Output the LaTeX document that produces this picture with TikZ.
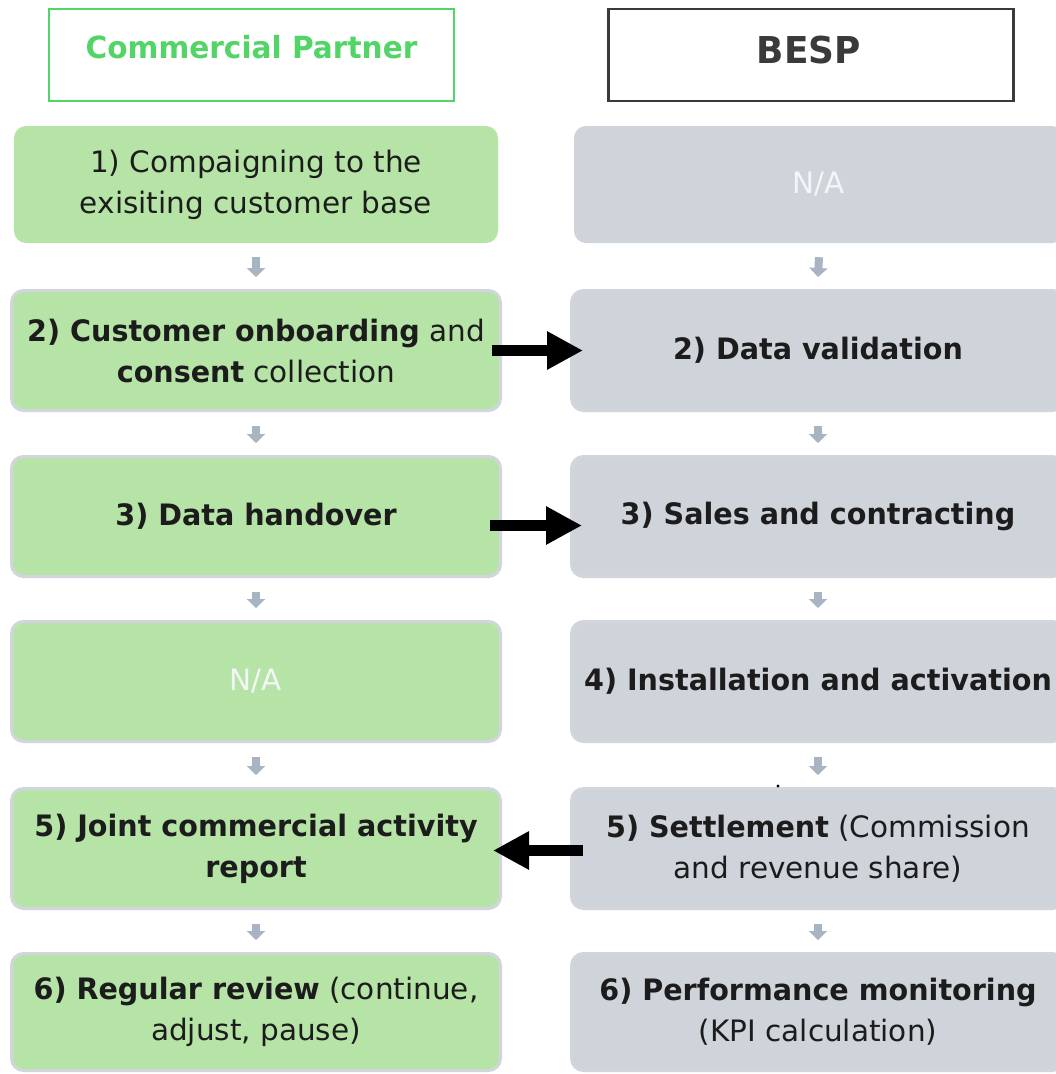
\documentclass[tikz,border=0pt]{standalone}
\usepackage{fontspec}
\setmainfont{DejaVu Sans}[BoldFeatures={FakeStretch=0.97}]
\usetikzlibrary{arrows.meta}

\definecolor{leafgreen}{HTML}{B6E4A7}
\definecolor{slategray}{HTML}{CFD4DB}
\definecolor{rimgray}{HTML}{D2D6DC}
\definecolor{headgreen}{HTML}{52D466}
\definecolor{headdark}{HTML}{3A3A3A}
\definecolor{inktext}{HTML}{1C1C1C}
\definecolor{flowgray}{HTML}{A9B4C2}
\definecolor{natext}{HTML}{F4F5F7}

\tikzset{
  stepbase/.style={rounded corners=12pt, inner sep=0pt, align=center,
    text=inktext, font=\fontsize{29.5}{41}\selectfont},
  leftstep/.style={stepbase, fill=leafgreen, draw=rimgray, line width=3pt,
    minimum width=489pt},
  rightstep/.style={stepbase, fill=slategray, draw=rimgray, line width=3pt,
    minimum width=493pt},
  headbox/.style={draw, line width=2.5pt, minimum width=405pt, minimum height=92pt, inner sep=0pt},
  flowdown/.style={draw=flowgray, line width=8pt, -{Triangle[length=9pt, width=18pt]}},
  handoff/.style={draw=black, line width=11pt, -{Triangle[length=36pt, width=36pt]}},
}

\begin{document}
\begin{tikzpicture}[x=1pt, y=-1pt]
  \useasboundingbox (0,0) rectangle (1056,1074);
  \clip (0,0) rectangle (1056,1074);
  \fill[white] (0,0) rectangle (1056,1074);

  % column headers
  \node[headbox, draw=headgreen] (cphead) at (251.5,55) {};
  \node[font=\fontsize{30.5}{36}\selectfont\bfseries, text=headgreen] (cptitle) at (251.5,47) {Commercial Partner};
  \node[headbox, draw=headdark] (bshead) at (811,55) {};
  \node[font=\fontsize{37}{44}\selectfont\bfseries, text=headdark] (bstitle) at (809,50) {BESP};

  % commercial partner steps
  \node[stepbase, fill=leafgreen, minimum width=484pt, minimum height=117pt] (l1) at (256,184.5)
    {1) Compaigning to the\\exisiting customer base};
  \node[leftstep, minimum height=120pt] (l2) at (256,350.5)
    {\textbf{2) Customer onboarding} and\\\textbf{consent} collection};
  \node[leftstep, minimum height=120pt] (l3) at (256,516.5)
    {\textbf{3) Data handover}};
  \node[leftstep, minimum height=120pt, text=natext] (l4) at (256,681.5)
    {N/A};
  \node[leftstep, minimum height=120pt] (l5) at (256,848.5)
    {\textbf{5) Joint commercial activity}\\\textbf{report}};
  \node[leftstep, minimum height=117pt] (l6) at (256,1012)
    {\textbf{6) Regular review} (continue,\\adjust, pause)};

  % BESP steps
  \node[stepbase, fill=slategray, minimum width=490pt, minimum height=117pt, text=natext] (r1) at (819,184.5)
    {N/A};
  \node[rightstep, minimum height=120pt] (r2) at (818,350.5)
    {\textbf{2) Data validation}};
  \node[rightstep, minimum height=120pt] (r3) at (818,516.5)
    {\textbf{3) Sales and contracting}};
  \node[rightstep, minimum height=120pt] (r4) at (818,681.5)
    {\textbf{4) Installation and activation}};
  \node[rightstep, minimum height=120pt] (r5) at (818,848.5)
    {\textbf{5) Settlement} (Commission\\and revenue share)};
  \node[rightstep, minimum height=117pt] (r6) at (818,1012)
    {\textbf{6) Performance monitoring}\\(KPI calculation)};

  % sequence within each column
  \foreach \col in {l,r}{
    \foreach \a/\b in {1/2,2/3,3/4,4/5,5/6}{
      \draw[flowdown] ([yshift=-14pt]\col\a.south) -- ([yshift=12pt]\col\b.north);
    }
  }

  % hand-offs between the two sides
  \draw[handoff] ([xshift=-10pt]l2.east) -- ([xshift=13pt]r2.west);
  \draw[handoff] ([xshift=-12pt,yshift=-9pt]l3.east) -- ([xshift=12pt,yshift=-9pt]r3.west);
  \draw[handoff] ([xshift=13pt,yshift=-2pt]r5.west) -- ([xshift=-9pt,yshift=-2pt]l5.east);

  % small mark above the settlement step
  \fill[black] (778,786) circle (1.6pt);
\end{tikzpicture}
\end{document}
